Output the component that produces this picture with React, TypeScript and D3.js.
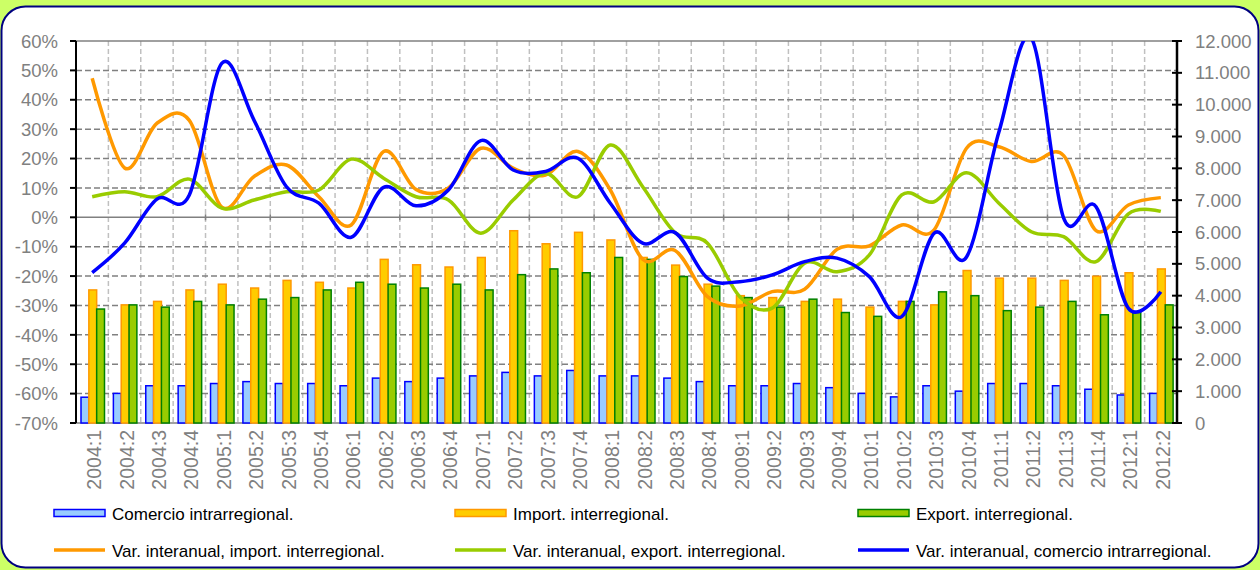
import React from "react";
import * as d3 from "d3";

const categories = [
  "2004:1","2004:2","2004:3","2004:4","2005:1","2005:2","2005:3","2005:4",
  "2006:1","2006:2","2006:3","2006:4","2007:1","2007:2","2007:3","2007:4",
  "2008:1","2008:2","2008:3","2008:4","2009:1","2009:2","2009:3","2009:4",
  "2010:1","2010:2","2010:3","2010:4","2011:1","2011:2","2011:3","2011:4",
  "2012:1","2012:2",
];

const comercioIntra = [810, 930, 1170, 1170, 1240, 1300, 1240, 1240, 1170, 1410, 1300, 1410, 1480, 1590, 1480, 1650, 1480, 1480, 1410, 1300, 1170, 1170, 1240, 1110, 930, 820, 1170, 1000, 1240, 1240, 1170, 1060, 880, 930];
const importInter = [4180, 3710, 3820, 4180, 4360, 4240, 4480, 4420, 4240, 5140, 4970, 4900, 5200, 6040, 5630, 5990, 5750, 5200, 4960, 4360, 4000, 3940, 3820, 3890, 3640, 3820, 3710, 4790, 4550, 4550, 4480, 4610, 4720, 4840];
const exportInter = [3580, 3710, 3640, 3820, 3710, 3890, 3940, 4180, 4420, 4360, 4240, 4360, 4180, 4660, 4840, 4720, 5200, 5140, 4600, 4300, 3940, 3640, 3890, 3470, 3350, 3820, 4120, 4000, 3530, 3640, 3820, 3400, 3470, 3710];

const varImport = [47.3, 16.8, 32, 33, 3.5, 13.9, 17.8, 7, -2.6, 22.4, 9.5, 10, 23.5, 16.7, 14.4, 22.4, 9.3, -14.3, -11.3, -27, -30.2, -25.3, -24.5, -10.9, -9.7, -2.6, -4.3, 23.5, 24, 19, 21, -4.5, 4.2, 6.7];
const varExport = [7, 8.7, 7, 13, 3.1, 5.9, 8.7, 9.3, 19.8, 13.3, 7, 5.9, -5.4, 5.9, 15, 7, 24.6, 10.4, -5.2, -8.8, -27, -30.9, -15.6, -18.5, -12.8, 7.6, 5.3, 15.2, 4.8, -4.9, -6.6, -15.1, 1.2, 2];
const varIntra = [-18.8, -8.8, 6.2, 7.6, 52.4, 33, 10.4, 4.8, -6.8, 10.2, 3.9, 9.3, 26.1, 16.1, 15.6, 20.1, 4.8, -8.8, -5.2, -20.7, -21.9, -19.6, -15.1, -13.9, -20.2, -33.8, -5.4, -13.5, 29, 61, -0.3, 3.6, -31, -25.3];

const leftTicks = [60, 50, 40, 30, 20, 10, 0, -10, -20, -30, -40, -50, -60, -70];
const rightTicks = [0, 1000, 2000, 3000, 4000, 5000, 6000, 7000, 8000, 9000, 10000, 11000, 12000];

const barSeries = [
  { name: "Comercio intrarregional.", values: comercioIntra, fill: "#99CCFF", stroke: "#0000FF" },
  { name: "Import. interregional.", values: importInter, fill: "#FFCC00", stroke: "#FF9900" },
  { name: "Export. interregional.", values: exportInter, fill: "#99CC00", stroke: "#008000" },
];
const lineSeries = [
  { name: "Var. interanual, import. interregional.", values: varImport, color: "#FF9900" },
  { name: "Var. interanual, export. interregional.", values: varExport, color: "#99CC00" },
  { name: "Var. interanual, comercio intrarregional.", values: varIntra, color: "#0000FF" },
];

const W = 1260, H = 570;
const L = 76, R = 1177, T = 41, B = 423;

export default function App() {
  const x = d3.scaleBand<string>().domain(categories).range([L, R]).paddingInner(0).paddingOuter(0);
  const step = x.step();
  const xInner = d3.scaleBand<number>().domain([0, 1, 2]).range([5, 28.5]).padding(0);
  const yL = d3.scaleLinear().domain([-70, 60]).range([B, T]);
  const yR = d3.scaleLinear().domain([0, 12000]).range([B, T]);
  const fmtR = (v: number) => (v === 0 ? "0" : d3.format(",")(v).replace(/,/g, "."));
  const line = d3.line<number>()
    .x((_, i) => (x(categories[i]) as number) + step / 2)
    .y((d) => yL(d))
    .curve(d3.curveCardinal.tension(0));

  const legendCols = [54, 455, 858];
  const gray = "#808080";

  return (
    <svg width={W} height={H} style={{ position: "absolute", left: 0, top: 0 }} fontFamily="'Liberation Sans', Arial, sans-serif">
      <defs>
        <clipPath id="plotClip">
          <rect x={L} y={T} width={R - L} height={B - T} />
        </clipPath>
      </defs>
      <rect x={0} y={0} width={W} height={H} fill="#CCFF66" />
      <rect x={1.5} y={6.5} width={W - 3} height={H - 9} rx={24} ry={24} fill="#FFFFFF" stroke="#000080" strokeWidth={2} />

      {categories.slice(1).map((c) => (
        <line key={"vg" + c} x1={x(c)} x2={x(c)} y1={T} y2={B} stroke="#C0C0C0" strokeWidth={1.5} strokeDasharray="5,3" />
      ))}
      {leftTicks.map((t) => (
        <line key={"hg" + t} x1={L} x2={R} y1={yL(t)} y2={yL(t)} stroke={gray} strokeWidth={1.5}
          strokeDasharray={t === 60 || t === 0 || t === -70 ? undefined : "6,3"} />
      ))}
      {categories.map((c, i) => (i % 2 === 0 ? (
        <line key={"zt" + c} x1={x(c)} x2={x(c)} y1={yL(0) - 3} y2={yL(0) + 3} stroke={gray} strokeWidth={1.5} />
      ) : null))}

      {barSeries.map((s, si) => (
        <g key={s.name}>
          {s.values.map((v, i) => {
            const bx = (x(categories[i]) as number) + (xInner(si) as number);
            return (
              <rect key={i} x={bx} y={yR(v)} width={xInner.bandwidth()} height={B - yR(v)}
                fill={s.fill} stroke={s.stroke} strokeWidth={1.5} />
            );
          })}
        </g>
      ))}

      <g clipPath="url(#plotClip)">
        {lineSeries.map((s) => (
          <path key={s.name} d={line(s.values) || ""} fill="none" stroke={s.color} strokeWidth={3.5} strokeLinejoin="round" />
        ))}
      </g>

      <line x1={L} x2={L} y1={T} y2={B} stroke="#000" strokeWidth={2} />
      {leftTicks.map((t) => (
        <g key={"lt" + t}>
          <line x1={L - 6} x2={L} y1={yL(t)} y2={yL(t)} stroke="#000" strokeWidth={2} />
          <text x={58} y={yL(t)} dy="0.36em" textAnchor="end" fontSize={18.5} fill={gray}>{t + "%"}</text>
        </g>
      ))}
      <line x1={R} x2={R} y1={T} y2={B} stroke="#000" strokeWidth={2.5} />
      {rightTicks.map((t) => (
        <g key={"rt" + t}>
          <line x1={R - 5} x2={R + 5} y1={yR(t)} y2={yR(t)} stroke="#000" strokeWidth={2} />
          <text x={1195} y={yR(t)} dy="0.36em" textAnchor="start" fontSize={18.5} fill={gray}>{fmtR(t)}</text>
        </g>
      ))}

      {categories.map((c) => {
        const cx = (x(c) as number) + step / 2 + 2;
        return (
          <text key={"cl" + c} transform={`translate(${cx},${430}) rotate(-90)`} dy="0.36em" textAnchor="end" fontSize={19.5} fill={gray}>{c}</text>
        );
      })}

      {barSeries.map((s, i) => (
        <g key={"lb" + s.name}>
          <rect x={legendCols[i]} y={509.5} width={51} height={7} fill={s.fill} stroke={s.stroke} strokeWidth={1.5} />
          <text x={legendCols[i] + 58} y={514} dy="0.36em" fontSize={17} fill="#000">{s.name}</text>
        </g>
      ))}
      {lineSeries.map((s, i) => (
        <g key={"ll" + s.name}>
          <line x1={legendCols[i]} x2={legendCols[i] + 51} y1={550} y2={550} stroke={s.color} strokeWidth={3.5} />
          <text x={legendCols[i] + 58} y={550.5} dy="0.36em" fontSize={17} fill="#000">{s.name}</text>
        </g>
      ))}
    </svg>
  );
}
